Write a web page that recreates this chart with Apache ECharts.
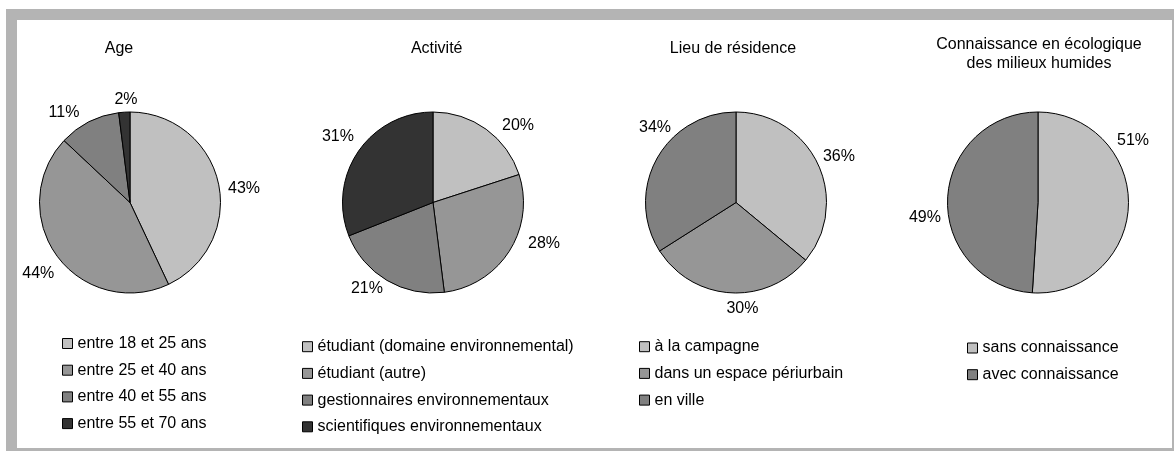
<!DOCTYPE html>
<html>
<head>
<meta charset="utf-8">
<title>Profil des répondants</title>
<script src="https://cdn.jsdelivr.net/npm/echarts@6/dist/echarts.min.js"></script>
<style>
  html, body { margin: 0; padding: 0; background: #fff; }
  #chart { width: 1174px; height: 451px; }
</style>
</head>
<body>
<div id="chart"></div>
<script>
// Répartition des répondants (en %)
const ageCategories = ['entre 18 et 25 ans', 'entre 25 et 40 ans', 'entre 40 et 55 ans', 'entre 55 et 70 ans'];
const ageValues = [43, 44, 11, 2];

const activiteCategories = ['étudiant (domaine environnemental)', 'étudiant (autre)', 'gestionnaires environnementaux', 'scientifiques environnementaux'];
const activiteValues = [20, 28, 21, 31];

const lieuCategories = ['à la campagne', 'dans un espace périurbain', 'en ville'];
const lieuValues = [36, 30, 34];

const connaissanceCategories = ['sans connaissance', 'avec connaissance'];
const connaissanceValues = [51, 49];

const titles = ['Age', 'Activité', 'Lieu de résidence', 'Connaissance en écologique\ndes milieux humides'];

// Greyscale fills
const grey = { light: '#c0c0c0', mid: '#969696', dark: '#808080', darkest: '#333333' };

// Layout of each panel
const panels = [
  { cats: ageCategories, vals: ageValues, colors: [grey.light, grey.mid, grey.dark, grey.darkest],
    cx: 130, titleX: 119, titleTop: 39, legendLeft: 62, legendTop: 335.5,
    spots: [[6.75, 114.8], [-142.4, 115.7], [126.2, 111.8], [92.2, 103.3]] },
  { cats: activiteCategories, vals: activiteValues, colors: [grey.light, grey.mid, grey.dark, grey.darkest],
    cx: 433, titleX: 436.7, titleTop: 39, legendLeft: 302, legendTop: 338.7,
    spots: [[42.1, 114.6], [-20.2, 118.3], [-127.6, 108.2], [145.3, 115.6]] },
  { cats: lieuCategories, vals: lieuValues, colors: [grey.light, grey.mid, grey.dark],
    cx: 736, titleX: 733, titleTop: 39, legendLeft: 639, legendTop: 338.7,
    spots: [[24.0, 112.7], [-86.5, 106], [137.1, 110.5]] },
  { cats: connaissanceCategories, vals: connaissanceValues, colors: [grey.light, grey.dark],
    cx: 1038, titleX: 1039, titleTop: 35.5, legendLeft: 967, legendTop: 340,
    spots: [[33.0, 113.3], [-172.5, 114]] }
];
const pieCY = 202.5;
const pieR = 90.5;
const font = 'Liberation Sans, Arial, sans-serif';

const chart = echarts.init(document.getElementById('chart'), null, { renderer: 'canvas' });

const series = panels.map((p, i) => ({
  type: 'pie',
  name: titles[i],
  center: [p.cx, pieCY],
  radius: [0, pieR],
  startAngle: 90,
  clockwise: true,
  avoidLabelOverlap: false,
  animation: false,
  itemStyle: { borderColor: '#000', borderWidth: 1 },
  emphasis: { disabled: true },
  label: {
    show: true,
    position: 'outside',
    formatter: '{c}%',
    fontFamily: font,
    fontSize: 16,
    color: '#000'
  },
  labelLine: { show: false },
  labelLayout: (params) => {
    const s = p.spots[params.dataIndex];
    const a = s[0] * Math.PI / 180;
    return {
      x: p.cx + s[1] * Math.cos(a),
      y: pieCY - s[1] * Math.sin(a),
      align: 'center',
      verticalAlign: 'middle'
    };
  },
  data: p.cats.map((name, k) => ({ name, value: p.vals[k], itemStyle: { color: p.colors[k] } }))
}));

const title = panels.map((p, i) => ({
  text: titles[i],
  left: p.titleX,
  top: p.titleTop,
  padding: 0,
  textAlign: 'center',
  textStyle: { fontFamily: font, fontSize: 16, fontWeight: 'normal', color: '#000', lineHeight: 19 }
}));

const legend = panels.map((p) => ({
  data: p.cats,
  orient: 'vertical',
  left: p.legendLeft,
  top: p.legendTop,
  padding: 0,
  itemWidth: 10,
  itemHeight: 10,
  itemGap: 10.7,
  icon: 'rect',
  selectedMode: false,
  itemStyle: { borderColor: '#000', borderWidth: 1 },
  textStyle: { fontFamily: font, fontSize: 16, color: '#000', lineHeight: 16 }
}));

chart.setOption({
  backgroundColor: '#fff',
  animation: false,
  graphic: [
    { type: 'rect', z: -10, silent: true, shape: { x: 6, y: 9, width: 1168, height: 442 }, style: { fill: '#b4b4b4' } },
    { type: 'rect', z: -9, silent: true, shape: { x: 17, y: 20, width: 1155, height: 428 }, style: { fill: '#ffffff' } }
  ],
  title,
  legend,
  series
});
</script>
</body>
</html>
